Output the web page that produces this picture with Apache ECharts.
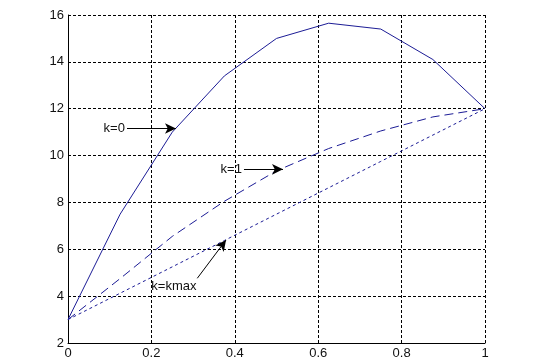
<!DOCTYPE html>
<html>
<head>
<meta charset="utf-8">
<script src="https://cdn.jsdelivr.net/npm/echarts@6/dist/echarts.min.js"></script>
<style>
html,body{margin:0;padding:0;background:#fff;}
#c{width:537px;height:362px;}
</style>
</head>
<body>
<div id="c"></div>
<script>
// ---- data ----
const xValues   = [0, 0.125, 0.25, 0.375, 0.5, 0.625, 0.75, 0.875, 1];
const k0Values  = [3, 7.5, 11.0, 13.4, 15.0, 15.65, 15.4, 14.1, 12];
const k1Values  = [3, 4.75, 6.55, 8.05, 9.35, 10.3, 11.05, 11.65, 12];
const kmaxValues= [3, 4.125, 5.25, 6.375, 7.5, 8.625, 9.75, 10.875, 12];
const xTicks = [0, 0.2, 0.4, 0.6, 0.8, 1];
const yTicks = [2, 4, 6, 8, 10, 12, 14, 16];

const lineColor = '#1c1c96';
const font = 'Liberation Sans, Arial, sans-serif';

function pairs(ys){ return xValues.map((x,i)=>[x, ys[i]]); }

const chart = echarts.init(document.getElementById('c'), null, {renderer:'canvas'});

const arrowStyle = {color:'#000', width:1, type:'solid'};
function arrow(from, to){
  return [{coord:from, symbol:'none'}, {coord:to, symbol:'arrow', symbolSize:[8,11]}];
}

const option = {
  animation:false,
  backgroundColor:'#fff',
  grid:{left:68, right:52, top:15, bottom:19, containLabel:false},
  xAxis:{
    type:'value', min:xTicks[0], max:xTicks[xTicks.length-1], interval:0.2,
    axisLine:{show:true, onZero:false, lineStyle:{color:'#000', width:1}},
    axisTick:{show:false},
    axisLabel:{color:'#111', fontFamily:font, fontSize:13, margin:4,
      formatter:v=>String(+v.toFixed(1))},
    splitLine:{show:true, lineStyle:{color:'#000', width:1, type:[3,2]}}
  },
  yAxis:{
    type:'value', min:yTicks[0], max:yTicks[yTicks.length-1], interval:2,
    axisLine:{show:true, onZero:false, lineStyle:{color:'#000', width:1}},
    axisTick:{show:false},
    axisLabel:{color:'#111', fontFamily:font, fontSize:13, margin:4},
    splitLine:{show:true, lineStyle:{color:'#000', width:1, type:[3,2]}}
  },
  series:[
    {name:'k=0', type:'line', data:pairs(k0Values), showSymbol:false, z:3,
     lineStyle:{color:lineColor, width:1, type:'solid'},
     markLine:{silent:true, animation:false, label:{show:false}, lineStyle:arrowStyle,
       data:[arrow([0.1415, 11.156],[0.259, 11.156])]}},
    {name:'k=1', type:'line', data:pairs(k1Values), showSymbol:false, z:3,
     lineStyle:{color:lineColor, width:1, type:[9,5]},
     markLine:{silent:true, animation:false, label:{show:false}, lineStyle:arrowStyle,
       data:[arrow([0.422, 9.414],[0.5156, 9.414])]}},
    {name:'k=kmax', type:'line', data:pairs(kmaxValues), showSymbol:false, z:3,
     lineStyle:{color:lineColor, width:1, type:[3,3]},
     markLine:{silent:true, animation:false, label:{show:false}, lineStyle:arrowStyle,
       data:[arrow([0.310, 4.762],[0.379, 6.397])]}}
  ]
};
chart.setOption(option);

// annotation texts placed in data coordinates
const notes = [
  {text:'k=0',    at:[0.1365, 11.156], align:'right'},
  {text:'k=1',    at:[0.417, 9.414],  align:'right'},
  {text:'k=kmax', at:[0.254, 4.404],  align:'center'}
];
chart.setOption({
  graphic: notes.map(n=>{
    const p = chart.convertToPixel({gridIndex:0}, n.at);
    return {type:'text', x:p[0], y:p[1], z:10,
      style:{text:n.text, fill:'#111', font:'13px '+font, textAlign:n.align, textVerticalAlign:'middle'}};
  })
});
</script>
</body>
</html>
